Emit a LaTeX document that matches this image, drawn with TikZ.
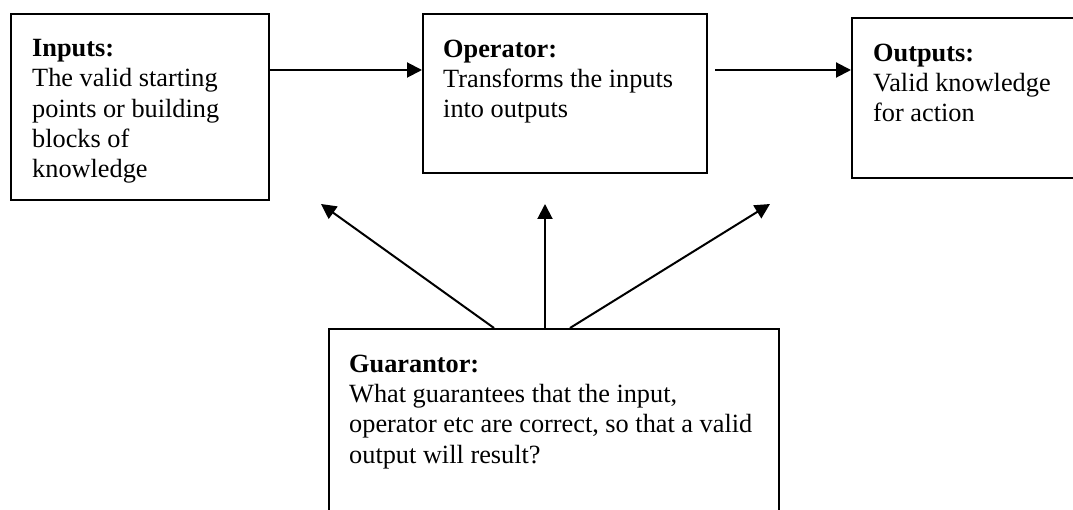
\documentclass[tikz,border=0pt]{standalone}
\usepackage{fontspec}
\setmainfont{Liberation Serif}
\usetikzlibrary{arrows.meta}
\begin{document}
\begin{tikzpicture}[x=1pt,y=-1pt,
  box/.style={draw,line width=2pt,rectangle,inner sep=0pt,anchor=north west},
  txt/.style={anchor=base west,inner sep=0pt,align=left,font=\fontsize{26.3}{30.2}\selectfont},
  arr/.style={line width=2pt,-{Triangle[length=15pt,width=15pt]}}]
\path[use as bounding box] (0,0) rectangle (1073,510);
\clip (0,0) rectangle (1073,510);
\node[box,minimum width=258pt,minimum height=186pt] (inp) at (10,13) {};
\node[box,minimum width=284pt,minimum height=159pt] (op) at (422,13) {};
\node[box,minimum width=240pt,minimum height=160pt] (out) at (851,17) {};
\node[box,minimum width=450pt,minimum height=210pt] (g) at (328,328) {};
% base anchor of a multi-line node = baseline of its last line
\node[txt] (tinp) at (32,177.5) {\textbf{Inputs:}\\The valid starting\\points or building\\blocks of\\knowledge};
\node[txt] (top) at (443,117.5) {\textbf{Operator:}\\Transforms the inputs\\into outputs};
\node[txt] (tout) at (873,122) {\textbf{Outputs:}\\Valid knowledge\\for action};
\node[txt] (tg) at (349,463) {\textbf{Guarantor:}\\What guarantees that the input,\\operator etc are correct, so that a valid\\output will result?};
\coordinate (y0) at (0,70);
\draw[arr] (inp.east |- y0) -- (op.west |- y0);
\draw[arr] ([xshift=7pt]op.east |- y0) -- (out.west |- y0);
\coordinate (t1) at (321,204);
\coordinate (t2) at (545,204);
\coordinate (t3) at (770,204);
\draw[arr] ([xshift=166pt]g.north west) -- (t1);
\draw[arr] (g.north west -| t2) -- (t2);
\draw[arr] ([xshift=242pt]g.north west) -- (t3);
\end{tikzpicture}
\end{document}
